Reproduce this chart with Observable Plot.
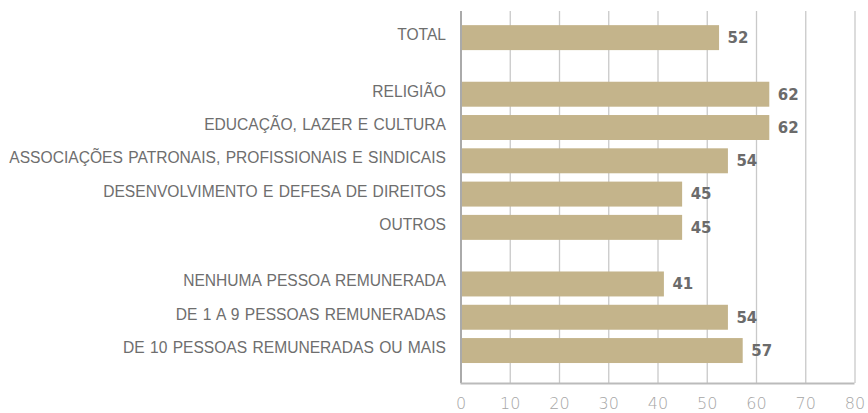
<!DOCTYPE html>
<html>
<head>
<meta charset="utf-8">
<script src="https://cdn.jsdelivr.net/npm/d3@7"></script>
<script src="https://cdn.jsdelivr.net/npm/@observablehq/plot@0.6"></script>
<style>
  html, body { margin: 0; padding: 0; background: #fff; }
  #chart svg { display: block; }
  #chart svg text { word-spacing: 1px; }
</style>
</head>
<body>
<div id="chart"></div>
<script>
const categories = [
  "TOTAL",
  "RELIGIÃO",
  "EDUCAÇÃO, LAZER E CULTURA",
  "ASSOCIAÇÕES PATRONAIS, PROFISSIONAIS E SINDICAIS",
  "DESENVOLVIMENTO E DEFESA DE DIREITOS",
  "OUTROS",
  "NENHUMA PESSOA REMUNERADA",
  "DE 1 A 9 PESSOAS REMUNERADAS",
  "DE 10 PESSOAS REMUNERADAS OU MAIS"
];
const groups = [0, 1, 1, 1, 1, 1, 2, 2, 2];
const values = [52.5, 62.7, 62.7, 54.3, 45.0, 45.0, 41.3, 54.3, 57.3];
const labels = ["52", "62", "62", "54", "45", "45", "41", "54", "57"];
const ticks = [0, 10, 20, 30, 40, 50, 60, 70, 80];

const groupGap = 0.7;
const rows = categories.map((c, i) => ({
  category: c,
  value: values[i],
  label: labels[i],
  pos: i + groupGap * groups[i]
}));
const yDomain = [-0.8, d3.max(rows, d => d.pos) + 0.975];
const half = 0.375;

const chart = Plot.plot({
  width: 868,
  height: 413,
  marginLeft: 460.5,
  marginRight: 13.5,
  marginTop: 11,
  marginBottom: 30,
  style: { fontFamily: "'Liberation Sans', Arial, sans-serif", fontSize: "15px", background: "#fff" },
  x: { domain: [0, 80], axis: null, label: null },
  y: { type: "linear", domain: yDomain, reverse: true, axis: null },
  marks: [
    Plot.ruleX(ticks.filter(t => t > 0), { stroke: "#c9c9c9", strokeWidth: 1.3 }),
    Plot.rectX(rows, {
      x1: 0, x2: "value",
      y1: d => d.pos - half, y2: d => d.pos + half,
      fill: "#c4b48b"
    }),
    Plot.ruleX([0], { stroke: "#aaaaaa", strokeWidth: 2 }),
    Plot.ruleY([yDomain[1]], { stroke: "#bbbbbb", strokeWidth: 2 }),
    Plot.text(rows, {
      x: 0, y: "pos", text: "category",
      textAnchor: "end", dx: -15, dy: -3,
      fill: "#6e6e6e", fontSize: 15.6
    }),
    Plot.text(rows, {
      x: "value", y: "pos", text: "label",
      textAnchor: "start", dx: 8,
      fill: "#6b6b6b", fontWeight: "bold", fontSize: 15,
      fontFamily: "'DejaVu Sans', sans-serif"
    }),
    Plot.axisX(ticks, {
      tickSize: 0, tickPadding: 14, color: "#a6a6a6", fontSize: 16, label: null,
      fontFamily: "'DejaVu Sans', sans-serif", fontWeight: 300
    })
  ]
});
document.getElementById("chart").appendChild(chart);
</script>
</body>
</html>
